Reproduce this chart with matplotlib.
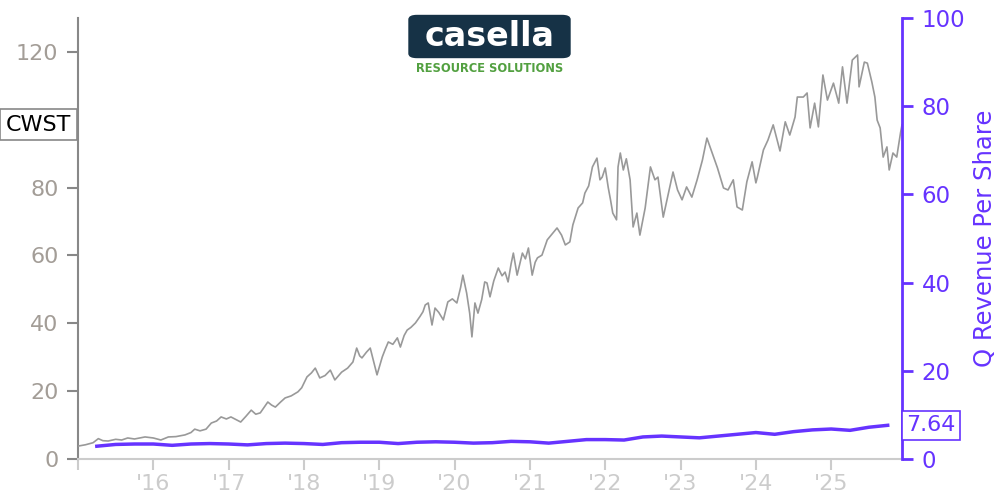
import matplotlib.pyplot as plt
from matplotlib.patches import FancyBboxPatch

# CWST share price (decimal year -> USD)
price_years = [
    2015.00, 2015.10, 2015.20, 2015.27, 2015.33, 2015.40, 2015.50, 2015.58, 2015.66, 2015.75,
    2015.89, 2016.00, 2016.10, 2016.20, 2016.30, 2016.42, 2016.50, 2016.55, 2016.62, 2016.70,
    2016.77, 2016.84, 2016.90, 2016.97, 2017.03, 2017.10, 2017.16, 2017.23, 2017.30, 2017.36,
    2017.42, 2017.47, 2017.52, 2017.57, 2017.62, 2017.69, 2017.75, 2017.83, 2017.92, 2017.97,
    2018.04, 2018.10, 2018.15, 2018.21, 2018.28, 2018.35, 2018.41, 2018.50, 2018.58, 2018.65,
    2018.70, 2018.74, 2018.77, 2018.83, 2018.88, 2018.92, 2018.97, 2019.04, 2019.08, 2019.12,
    2019.18, 2019.24, 2019.28, 2019.33, 2019.37, 2019.42, 2019.48, 2019.54, 2019.58, 2019.61,
    2019.65, 2019.70, 2019.74, 2019.79, 2019.85, 2019.91, 2019.97, 2020.03, 2020.08, 2020.11,
    2020.16, 2020.20, 2020.23, 2020.27, 2020.31, 2020.36, 2020.40, 2020.43, 2020.47, 2020.52,
    2020.58, 2020.63, 2020.67, 2020.71, 2020.75, 2020.78, 2020.83, 2020.90, 2020.94, 2020.98,
    2021.03, 2021.07, 2021.10, 2021.16, 2021.23, 2021.30, 2021.36, 2021.42, 2021.47, 2021.53,
    2021.57, 2021.64, 2021.70, 2021.73, 2021.78, 2021.83, 2021.89, 2021.93, 2021.96, 2022.00,
    2022.04, 2022.07, 2022.10, 2022.15, 2022.17, 2022.20, 2022.24, 2022.28, 2022.33, 2022.37,
    2022.42, 2022.46, 2022.53, 2022.60, 2022.66, 2022.70, 2022.77, 2022.82, 2022.90, 2022.96,
    2023.02, 2023.08, 2023.15, 2023.22, 2023.29, 2023.35, 2023.42, 2023.49, 2023.57, 2023.63,
    2023.70, 2023.75, 2023.82, 2023.88, 2023.95, 2024.00, 2024.02, 2024.10, 2024.16, 2024.23,
    2024.32, 2024.39, 2024.45, 2024.52, 2024.55, 2024.63, 2024.68, 2024.72, 2024.78, 2024.83,
    2024.89, 2024.95, 2025.03, 2025.10, 2025.15, 2025.21, 2025.28, 2025.35, 2025.37, 2025.44,
    2025.48, 2025.54, 2025.58, 2025.61, 2025.65, 2025.69, 2025.74, 2025.77, 2025.82, 2025.87,
    2025.92, 2025.94,
]
price = [
    3.8, 4.2, 4.8, 6.0, 5.4, 5.3, 5.8, 5.6, 6.2, 5.9,
    6.5, 6.2, 5.6, 6.5, 6.6, 7.1, 7.8, 8.8, 8.3, 8.8,
    10.6, 11.2, 12.4, 11.8, 12.4, 11.6, 10.9, 12.6, 14.4, 13.2,
    13.6, 15.2, 16.8, 15.9, 15.3, 16.8, 18.0, 18.6, 19.8, 21.0,
    24.2, 25.4, 26.8, 23.9, 24.6, 26.2, 23.3, 25.6, 26.8, 28.6,
    32.7, 30.4, 29.8, 31.5, 32.7, 29.2, 24.8, 30.1, 32.4, 34.5,
    33.8, 35.7, 33.0, 36.4, 38.0, 38.8, 40.1, 42.0, 43.4, 45.4,
    46.0, 39.5, 44.5, 43.2, 41.0, 46.3, 47.2, 46.0, 50.6, 54.2,
    48.9, 43.0, 36.0, 46.0, 43.0, 47.0, 52.2, 51.9, 47.8, 52.5,
    56.3, 54.0, 55.1, 52.2, 57.5, 60.7, 54.2, 60.7, 59.0, 62.2,
    54.2, 58.0, 59.3, 60.1, 64.6, 66.5, 68.1, 66.0, 63.1, 64.0,
    69.0, 74.0, 75.5, 78.4, 80.5, 86.1, 88.7, 82.3, 83.1, 85.8,
    80.0, 76.4, 72.5, 70.5, 86.1, 90.2, 85.2, 88.5, 82.3, 68.4,
    72.5, 66.0, 74.0, 86.1, 82.3, 83.1, 71.3, 76.4, 84.6, 79.3,
    76.4, 80.2, 77.2, 82.3, 88.1, 94.6, 90.2, 85.8, 79.9, 79.3,
    82.3, 74.3, 73.4, 81.7, 87.6, 81.4, 83.1, 91.1, 94.0, 98.5,
    90.8, 99.4, 95.5, 100.8, 106.7, 106.7, 107.9, 97.6, 104.9, 97.9,
    113.2, 105.8, 110.8, 104.9, 115.6, 104.9, 117.6, 119.1, 109.7, 117.0,
    116.7, 111.1, 106.7, 99.9, 97.6, 89.0, 92.0, 85.2, 90.2, 89.0,
    96.1, 98.5,
]

# quarterly revenue per share
rev_years = [
    2015.25, 2015.50, 2015.75, 2016.00, 2016.25, 2016.50, 2016.75, 2017.00, 2017.25, 2017.50,
    2017.75, 2018.00, 2018.25, 2018.50, 2018.75, 2019.00, 2019.25, 2019.50, 2019.75, 2020.00,
    2020.25, 2020.50, 2020.75, 2021.00, 2021.25, 2021.50, 2021.75, 2022.00, 2022.25, 2022.50,
    2022.75, 2023.00, 2023.25, 2023.50, 2023.75, 2024.00, 2024.25, 2024.50, 2024.75, 2025.00,
    2025.25, 2025.50, 2025.75,
]
rev_per_share = [
    2.9, 3.3, 3.4, 3.4, 3.1, 3.4, 3.5, 3.4, 3.2, 3.5,
    3.6, 3.5, 3.3, 3.7, 3.8, 3.8, 3.5, 3.8, 3.9, 3.8,
    3.6, 3.7, 4.0, 3.9, 3.6, 4.0, 4.4, 4.4, 4.3, 5.0,
    5.2, 5.0, 4.8, 5.2, 5.6, 6.0, 5.6, 6.2, 6.6, 6.8,
    6.5, 7.2, 7.64,
]

year_ticks = list(range(2015, 2026))
year_labels = [""] + ["'%d" % (y % 100) for y in year_ticks[1:]]
price_ticks = [0, 20, 40, 60, 80, 100, 120]
price_labels = ["0", "20", "40", "60", "80", "", "120"]  # 100 sits under the CWST tag

PURPLE = "#6633ff"
GRAY_TXT = "#a39d97"

fig = plt.figure(figsize=(10, 5), dpi=100)
ax = fig.add_axes([0.078, 0.082, 0.824, 0.882])
ax2 = ax.twinx()

ax.plot(price_years, price, color="#999999", lw=1.2, zorder=3)
ax2.plot(rev_years, rev_per_share, color=PURPLE, lw=2.5, zorder=3)

ax.set_xlim(2015.0, 2025.94)
ax.set_ylim(0, 130)
ax2.set_ylim(0, 100)

ax.set_yticks(price_ticks)
ax.set_yticklabels(price_labels)
ax.set_xticks(year_ticks)
ax.set_xticklabels(year_labels)
ax2.set_yticks([0, 20, 40, 60, 80, 100])

for a in (ax, ax2):
    a.spines["top"].set_visible(False)
ax.spines["right"].set_visible(False)
ax2.spines["left"].set_visible(False)
ax2.spines["bottom"].set_visible(False)
ax.spines["left"].set_color("#888888")
ax.spines["left"].set_linewidth(1.5)
ax.spines["bottom"].set_color("#cccccc")
ax.spines["bottom"].set_linewidth(1.5)
ax2.spines["right"].set_color(PURPLE)
ax2.spines["right"].set_linewidth(2)

ax.tick_params(axis="y", colors="#888888", labelcolor=GRAY_TXT, labelsize=16,
               length=8, width=1.5, pad=6)
ax.tick_params(axis="x", colors="#cccccc", labelcolor="#cccccc", labelsize=16,
               length=8, width=1.5, pad=3)
ax2.tick_params(axis="y", colors=PURPLE, labelcolor=PURPLE, labelsize=16.5,
                length=8, width=2, pad=6)
ax2.set_ylabel("Q Revenue Per Share", color=PURPLE, fontsize=17.5, labelpad=6)

# ticker tag on the left axis at the last price
ax.text(-0.008, price[-1], "CWST", transform=ax.get_yaxis_transform(),
        ha="right", va="center", fontsize=16, color="black", zorder=5,
        bbox=dict(boxstyle="square,pad=0.25", fc="white", ec="#888888", lw=1.2),
        clip_on=False)

# latest revenue per share tag
ax2.text(1.005, rev_per_share[-1], "%.2f" % rev_per_share[-1],
         transform=ax2.get_yaxis_transform(), ha="left", va="center",
         fontsize=16, color=PURPLE, zorder=5,
         bbox=dict(boxstyle="square,pad=0.2", fc="white", ec=PURPLE, lw=1.2),
         clip_on=False)

# logo
logo = FancyBboxPatch((0.412, 0.888), 0.155, 0.078, boxstyle="round,pad=0.003,rounding_size=0.008",
                      transform=fig.transFigure, fc="#163246", ec="#163246", zorder=10)
fig.patches.append(logo)
fig.text(0.4895, 0.926, "casella", ha="center", va="center", fontsize=24,
         fontweight="heavy", color="white", zorder=11)
fig.text(0.4895, 0.862, "RESOURCE SOLUTIONS", ha="center", va="center",
         fontsize=8.3, color="#52a040", fontweight="bold", zorder=11)

fig.savefig("out.png", dpi=100)
